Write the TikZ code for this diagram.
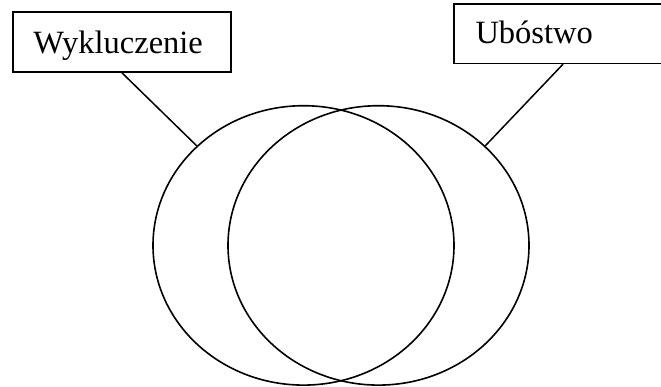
\documentclass[tikz,border=0pt]{standalone}
\usepackage{fontspec}
\setmainfont{Liberation Serif}
\usetikzlibrary{shapes.geometric}
\begin{document}
\begin{tikzpicture}[x=1pt,y=-1pt,
  labelbox/.style={draw, line width=1.5pt, rectangle, align=left,
    inner xsep=20.5pt, inner ysep=5pt, text width=177pt,
    font=\fontsize{32.5}{38}\selectfont},
  setoval/.style={draw, ellipse, line width=1.6pt, inner sep=0pt,
    minimum width=301pt, minimum height=279.4pt},
  link/.style={line width=1.5pt}]
\useasboundingbox (0,0) rectangle (661,387);
\clip (0,0) rectangle (661,387);
\node[labelbox, text height=36.3pt, text depth=13.7pt] (wyk) at (121.9,42) {Wykluczenie};
\node[labelbox, inner xsep=21.5pt, text width=175pt, text height=35pt, text depth=14.5pt] (ubo) at (563,33.7) {Ubóstwo};
\node[setoval] (L) at (303.5,245.4) {};
\node[setoval] (R) at (378.5,245.4) {};
\draw[link] (wyk.south) -- (L.137);
\draw[link] (ubo.south) -- (R.43);
\end{tikzpicture}
\end{document}
